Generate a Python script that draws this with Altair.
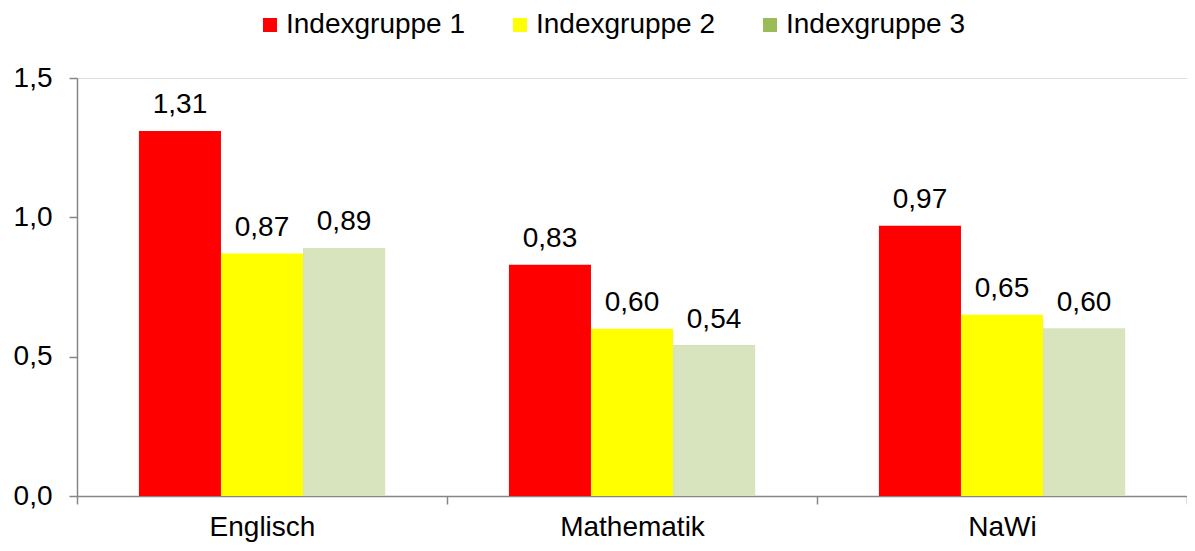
import altair as alt
import pandas as pd

categories = ["Englisch", "Mathematik", "NaWi"]
groups = ["Indexgruppe 1", "Indexgruppe 2", "Indexgruppe 3"]
gruppe1 = [1.31, 0.83, 0.97]
gruppe2 = [0.87, 0.60, 0.65]
gruppe3 = [0.89, 0.54, 0.60]
y_ticks = [0.0, 0.5, 1.0, 1.5]

legend_colors = ["#FF0000", "#FFFF00", "#9BBB59"]
bar3_color = "#D7E4BD"

rows = []
for i, c in enumerate(categories):
    for g, vals in zip(groups, [gruppe1, gruppe2, gruppe3]):
        rows.append({"Fach": c, "Gruppe": g, "Wert": vals[i]})
df = pd.DataFrame(rows)

FONT = "Liberation Sans"
FS = 28

x = alt.X("Fach:N", sort=categories,
          scale=alt.Scale(paddingInner=0, paddingOuter=0),
          axis=alt.Axis(title=None, labelAngle=0, tickBand="extent", tickSize=8,
                        labelPadding=9, labelFontSize=FS, labelFont=FONT,
                        labelColor="black", domainColor="#868686", tickColor="#868686",
                        domainWidth=1.5, tickWidth=1.5))
xo = alt.XOffset("Gruppe:N", sort=groups, scale=alt.Scale(paddingInner=0, paddingOuter=0.755))
y = alt.Y("Wert:Q", scale=alt.Scale(domain=[0, 1.5], nice=False),
          axis=alt.Axis(title=None, values=y_ticks, grid=False, tickSize=8,
                        labelPadding=17, labelFontSize=FS, labelFont=FONT, labelColor="black",
                        labelExpr="replace(format(datum.value, '.1f'), '.', ',')",
                        domainColor="#868686", tickColor="#868686",
                        domainWidth=1.5, tickWidth=1.5))

base = alt.Chart(df)

bars = base.mark_bar(strokeWidth=0).encode(
    x=x, xOffset=xo, y=y,
    color=alt.Color("Gruppe:N", sort=groups,
                    scale=alt.Scale(domain=groups, range=legend_colors),
                    legend=alt.Legend(title=None, orient="none", direction="horizontal",
                                      legendX=179, legendY=-67, padding=0,
                                      symbolType="square", symbolSize=196,
                                      symbolStrokeWidth=0, symbolOpacity=1,
                                      labelFontSize=FS, labelFont=FONT, labelColor="black",
                                      labelLimit=0, labelOffset=2, columnPadding=40)),
)

bars3 = base.transform_filter(alt.datum.Gruppe == "Indexgruppe 3").mark_bar(
    strokeWidth=0, color=bar3_color
).encode(x=x, xOffset=xo, y=y)

labels = base.transform_calculate(
    lbl="replace(format(datum.Wert, '.2f'), '.', ',')"
).mark_text(baseline="alphabetic", dy=-18, fontSize=FS, font=FONT, color="black").encode(
    x=x, xOffset=xo, y=y, text="lbl:N"
)

chart = alt.layer(bars, bars3, labels).properties(
    width=1110, height=418,
    autosize=alt.AutoSizeParams(type="none"),
    padding={"left": 69, "top": 70, "right": 0, "bottom": 46},
).configure_view(stroke=None).configure(background="white")

chart.save("out.html", embed_options={"renderer": "svg", "actions": False})
